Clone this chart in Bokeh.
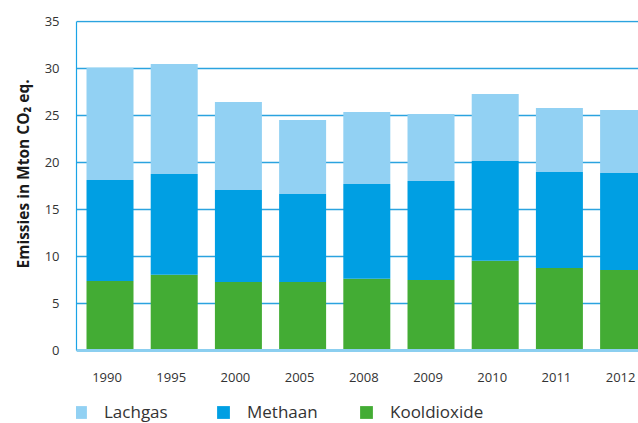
from bokeh.plotting import figure
from bokeh.models import (Range1d, FixedTicker, Legend, LegendItem, Span, Title,
                          LabelSet, ColumnDataSource)
from bokeh.core.properties import value
from bokeh.embed import file_html
from bokeh.resources import INLINE

years = ["1990", "1995", "2000", "2005", "2008", "2009", "2010", "2011", "2012"]
kooldioxide = [7.39, 8.06, 7.29, 7.29, 7.64, 7.50, 9.55, 8.78, 8.56]
methaan_top = [18.14, 18.78, 17.07, 16.65, 17.71, 18.03, 20.16, 18.99, 18.88]
totaal = [30.09, 30.48, 26.44, 24.52, 25.37, 25.16, 27.29, 25.80, 25.59]

methaan = [round(m - k, 2) for m, k in zip(methaan_top, kooldioxide)]
lachgas = [round(t - m, 2) for t, m in zip(totaal, methaan_top)]

series = ["Kooldioxide", "Methaan", "Lachgas"]
colors = ["#43AC34", "#009FE3", "#92D1F3"]
y_ticks = [0, 5, 10, 15, 20, 25, 30, 35]

FONT = "Open Sans"
idx = list(range(len(years)))
data = {"x": idx, "Kooldioxide": kooldioxide, "Methaan": methaan, "Lachgas": lachgas}

# frame spans the bars plus the band below them that holds the year labels and legend
PX_PER_UNIT = 9.4
below_px = 73
X0, X1 = -0.522, 8.232
Y0, Y1 = -below_px / PX_PER_UNIT, 35 + 1 / PX_PER_UNIT
p = figure(frame_width=562, frame_height=403, output_backend="svg", toolbar_location=None,
           x_range=Range1d(X0, X1), y_range=Range1d(Y0, Y1), x_axis_location=None,
           min_border_left=76, min_border_top=20, min_border_right=0, min_border_bottom=0)
p.outline_line_color = None
p.background_fill_color = "white"
p.border_fill_color = "white"

renderers = p.vbar_stack(series, x="x", width=0.732, color=colors, line_color=None, source=data)

# y axis
p.yaxis.ticker = FixedTicker(ticks=y_ticks)
p.yaxis.bounds = (0, 35)
p.yaxis.axis_line_color = "#1AA3E6"
p.yaxis.axis_line_width = 1.2
p.yaxis.major_tick_line_color = None
p.yaxis.minor_tick_line_color = None
p.yaxis.major_label_text_font = FONT
p.yaxis.major_label_text_font_size = "13px"
p.yaxis.major_label_text_color = "#333333"
p.yaxis.major_label_standoff = 11

p.add_layout(Title(text="Emissies in Mton CO\u2082 eq.", align="left", offset=155, standoff=16,
                   text_font=FONT, text_font_style="bold", text_font_size="15.5px",
                   text_color="#1a1a1a"), "left")

p.xgrid.grid_line_color = None
p.ygrid.ticker = FixedTicker(ticks=y_ticks)
p.ygrid.grid_line_color = "#2BA3DF"
p.ygrid.grid_line_width = 1.6

base = Span(location=0, dimension="width", line_color="#8CCFF0", line_width=3, level="overlay")
p.add_layout(base)

# year labels under the bars
labels = LabelSet(x="x", y=46, y_units="screen", text="year", x_offset=-3,
                  source=ColumnDataSource({"x": idx, "year": years}),
                  text_font=value(FONT), text_font_size="13px", text_color="#333333",
                  text_align="center", text_baseline="middle")
p.add_layout(labels)

order = [2, 1, 0]
legend = Legend(items=[LegendItem(label=series[i], renderers=[renderers[i]]) for i in order],
                location=(-4, 0), orientation="horizontal", glyph_width=16, glyph_height=16,
                label_standoff=16, label_width=72, spacing=39, padding=0, margin=0,
                border_line_color=None, background_fill_alpha=0, label_text_font=FONT,
                label_text_font_size="17px", label_text_color="#333333")
p.add_layout(legend, "center")

open("out.html", "w").write(file_html(p, INLINE))
